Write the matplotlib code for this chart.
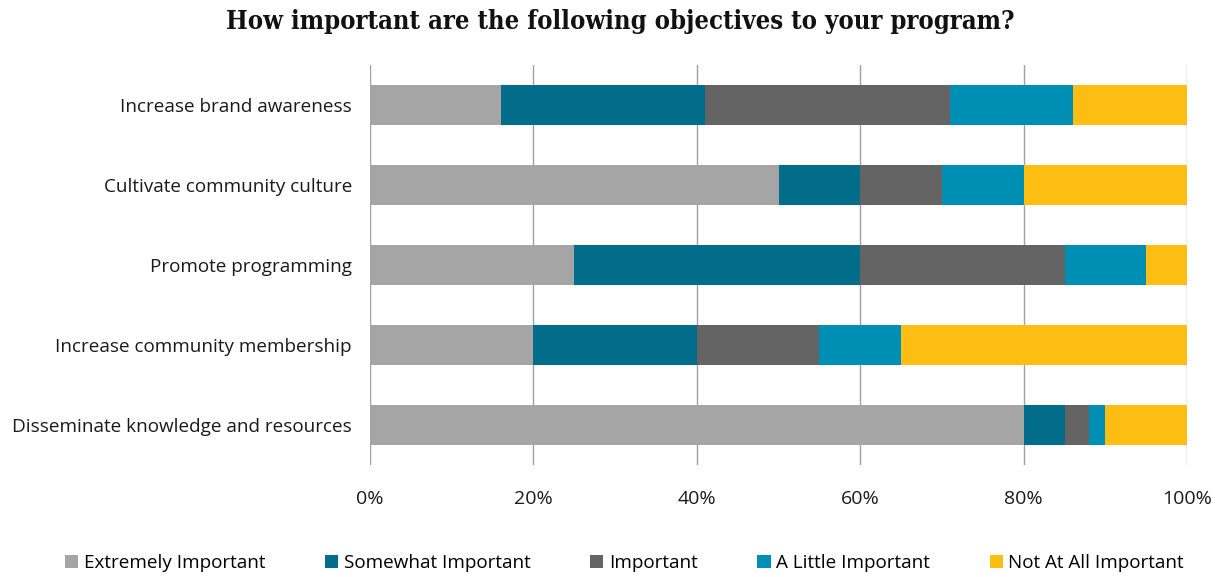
import matplotlib
matplotlib.use("Agg")
import matplotlib.pyplot as plt
import numpy as np

# survey objectives, top row first
objectives = [
    "Increase brand awareness",
    "Cultivate community culture",
    "Promote programming",
    "Increase community membership",
    "Disseminate knowledge and resources",
]
levels = [
    "Extremely Important",
    "Somewhat Important",
    "Important",
    "A Little Important",
    "Not At All Important",
]

# percent of respondents per level, same order as objectives
extremely = [16, 50, 25, 20, 80]
somewhat = [25, 10, 35, 20, 5]
important = [30, 10, 25, 15, 3]
a_little = [15, 10, 10, 10, 2]
not_at_all = [14, 20, 5, 35, 10]

colors = ["#a5a5a5", "#016d8b", "#646464", "#008fb4", "#fdbe13"]

plt.rcParams["font.family"] = ["Open Sans", "DejaVu Sans"]

fig = plt.figure(figsize=(12.2, 5.77), dpi=100)
ax = fig.add_axes([0.3033, 0.194, 0.6697, 0.693])

series = [extremely, somewhat, important, a_little, not_at_all]
y = np.arange(len(objectives))
left = np.zeros(len(objectives))
for vals, name, col in zip(series, levels, colors):
    ax.barh(y, vals, left=left, height=0.5, color=col, label=name, zorder=2)
    left += np.array(vals)

ax.set_xlim(0, 100)
ax.set_ylim(len(objectives) - 0.5, -0.5)
ax.set_yticks(y)
ax.set_yticklabels(objectives, fontsize=13.6, color="#1a1a1a")
ax.set_xticks(np.arange(0, 101, 20))
ax.set_xticklabels([f"{v}%" for v in range(0, 101, 20)], fontsize=14, color="#1a1a1a")
ax.tick_params(axis="y", length=0, pad=13)
ax.tick_params(axis="x", length=0, pad=18)
ax.grid(axis="x", color="#a0a0a0", linewidth=1, zorder=0)
for s in ax.spines.values():
    s.set_visible(False)

fig.text(0.508, 0.962, "How important are the following objectives to your program?",
         ha="center", va="center", fontsize=18.4, fontweight="bold",
         family="DejaVu Serif", fontstretch="condensed", color="#111111")

fig.legend(loc="center", bbox_to_anchor=(0.512, 0.024), ncol=5, frameon=False,
           fontsize=13.6, handlelength=0.7, handleheight=0.7, handletextpad=0.3,
           columnspacing=3.15)

fig.savefig("out.png", dpi=100)
